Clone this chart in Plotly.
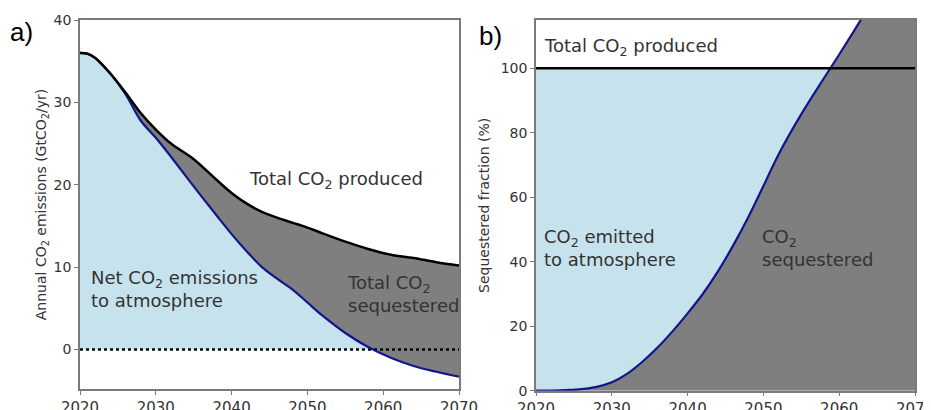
import numpy as np
import plotly.graph_objects as go

# ---- data (panel a) ----
years_a = [2020, 2021, 2022, 2024, 2026, 2028, 2030, 2032, 2035, 2038, 2040, 2042,
           2044, 2046, 2048, 2050, 2052, 2055, 2058, 2061, 2064, 2067, 2070]
total_produced = [36.0, 35.9, 35.4, 33.5, 31.2, 28.7, 26.7, 25.0, 23.1, 20.6, 19.0, 17.7,
                  16.7, 16.0, 15.4, 14.8, 14.1, 13.1, 12.2, 11.5, 11.1, 10.6, 10.2]
net_emissions = [36.0, 35.9, 35.4, 33.5, 31.0, 27.8, 25.7, 23.4, 19.8, 16.3, 14.0, 11.9,
                 10.0, 8.6, 7.3, 5.7, 4.1, 2.0, 0.3, -1.0, -2.0, -2.7, -3.3]

# ---- data (panel b) ----
years_b = [2020, 2022, 2024, 2026, 2028, 2030, 2032, 2034, 2036, 2038, 2040, 2042, 2044,
           2046, 2048, 2050, 2052, 2055, 2058, 2060, 2062, 2064, 2067, 2070]
sequestered_frac = [0, 0.05, 0.2, 0.5, 1.2, 2.6, 5.2, 8.9, 13.3, 18.4, 24.0, 30.0, 37.0,
                    45.0, 53.8, 63.5, 73.3, 85.8, 97.0, 104.3, 111.8, 119.5, 131.0, 142.0]

x_ticks = [2020, 2030, 2040, 2050, 2060, 2070]
ya_ticks = [0, 10, 20, 30, 40]
yb_ticks = [0, 20, 40, 60, 80, 100]

LIGHT = "#c6e3ed"
GRAY = "#7f7f7f"
NAVY = "#14148c"
FONT = "DejaVu Sans"
TXT = "#333333"
SM = 1.0

# page body has an 8px margin: convert target pixel positions to paper coords
W, H, OFF = 931, 410, 8
def px(x):
    return (x - OFF) / W
def py(y):
    return 1 - (y - OFF) / H

fig = go.Figure()

# Panel a
fig.add_trace(go.Scatter(x=years_a, y=net_emissions, mode="lines", line=dict(width=0, shape="spline", smoothing=SM),
                         fill="tozeroy", fillcolor=LIGHT, xaxis="x", yaxis="y", showlegend=False, hoverinfo="skip"))
fig.add_trace(go.Scatter(x=years_a, y=net_emissions, mode="lines", line=dict(width=0, shape="spline", smoothing=SM),
                         xaxis="x", yaxis="y", showlegend=False, hoverinfo="skip"))
fig.add_trace(go.Scatter(x=years_a, y=total_produced, mode="lines", line=dict(width=0, shape="spline", smoothing=SM),
                         fill="tonexty", fillcolor=GRAY, xaxis="x", yaxis="y", showlegend=False, hoverinfo="skip"))
fig.add_trace(go.Scatter(x=[2020, 2070], y=[0, 0], mode="lines", line=dict(color="black", width=2.5, dash="dot"),
                         xaxis="x", yaxis="y", showlegend=False))
fig.add_trace(go.Scatter(x=years_a, y=net_emissions, mode="lines", line=dict(color=NAVY, width=2.2, shape="spline", smoothing=SM),
                         xaxis="x", yaxis="y", showlegend=False))
fig.add_trace(go.Scatter(x=years_a, y=total_produced, mode="lines", line=dict(color="black", width=2.5, shape="spline", smoothing=SM),
                         xaxis="x", yaxis="y", showlegend=False))

# Panel b
fig.add_trace(go.Scatter(x=[2020, 2070], y=[100, 100], mode="lines", line=dict(width=0),
                         fill="tozeroy", fillcolor=LIGHT, xaxis="x2", yaxis="y2", showlegend=False, hoverinfo="skip"))
fig.add_trace(go.Scatter(x=years_b, y=sequestered_frac, mode="lines", line=dict(width=0, shape="spline", smoothing=SM),
                         fill="tozeroy", fillcolor=GRAY, xaxis="x2", yaxis="y2", showlegend=False, hoverinfo="skip"))
fig.add_trace(go.Scatter(x=years_b, y=sequestered_frac, mode="lines", line=dict(color=NAVY, width=2.2, shape="spline", smoothing=SM),
                         xaxis="x2", yaxis="y2", showlegend=False))
fig.add_trace(go.Scatter(x=[2020, 2070], y=[100, 100], mode="lines", line=dict(color="black", width=2.5),
                         xaxis="x2", yaxis="y2", showlegend=False))

axis_common = dict(showgrid=False, zeroline=False, showline=True, linecolor="#7a7a7a", linewidth=1.5,
                   mirror=True, ticks="outside", ticklen=4, tickwidth=1.2, tickcolor="#7a7a7a",
                   automargin=False)
xfont = dict(family=FONT, size=15, color=TXT)
yfont = dict(family=FONT, size=14, color=TXT)
tfont = dict(family=FONT, size=14, color=TXT)

fig.update_layout(
    width=W, height=H, margin=dict(l=0, r=0, t=0, b=0),
    paper_bgcolor="white", plot_bgcolor="white",
    xaxis=dict(domain=[px(80), px(459)], range=[2020, 2070], tickvals=x_ticks, anchor="y",
               tickfont=xfont, **axis_common),
    yaxis=dict(domain=[py(389), py(20)], range=[-4.8, 40], tickvals=ya_ticks, anchor="x", tickfont=yfont,
               title=dict(text="Annual CO<sub>2</sub> emissions (GtCO<sub>2</sub>/yr)", standoff=4, font=tfont),
               **axis_common),
    xaxis2=dict(domain=[px(536), px(915)], range=[2020, 2070], tickvals=x_ticks, anchor="y2",
                tickfont=xfont, **axis_common),
    yaxis2=dict(domain=[py(390.7), py(20)], range=[0, 115], tickvals=yb_ticks, anchor="x2", tickfont=yfont,
                title=dict(text="Sequestered fraction (%)", standoff=8, font=tfont), **axis_common),
)

afont = dict(family=FONT, size=18, color=TXT)
fig.add_annotation(x=2053.8, y=20.6, xref="x", yref="y", text="Total CO<sub>2</sub> produced",
                   showarrow=False, font=afont)
fig.add_annotation(x=2021.2, y=7.3, xref="x", yref="y", text="Net CO<sub>2</sub> emissions<br>to atmosphere",
                   showarrow=False, font=afont, xanchor="left", align="left")
fig.add_annotation(x=2055.0, y=6.7, xref="x", yref="y", text="Total CO<sub>2</sub><br>sequestered",
                   showarrow=False, font=afont, xanchor="left", align="left")
fig.add_annotation(x=2020.8, y=106.7, xref="x2", yref="y2", text="Total CO<sub>2</sub> produced",
                   showarrow=False, font=afont, xanchor="left", align="left")
fig.add_annotation(x=2020.8, y=44.3, xref="x2", yref="y2", text="CO<sub>2</sub> emitted<br>to atmosphere",
                   showarrow=False, font=afont, xanchor="left", align="left")
fig.add_annotation(x=2049.6, y=44.3, xref="x2", yref="y2", text="CO<sub>2</sub><br>sequestered",
                   showarrow=False, font=afont, xanchor="left", align="left")

pfont = dict(family="Liberation Sans", size=26, color="black")
fig.add_annotation(x=px(8), y=py(32), xref="paper", yref="paper", text="a)",
                   showarrow=False, font=pfont, xanchor="left", yanchor="middle")
fig.add_annotation(x=px(477), y=py(36), xref="paper", yref="paper", text="b)",
                   showarrow=False, font=pfont, xanchor="left", yanchor="middle")

fig.write_html("out.html")
